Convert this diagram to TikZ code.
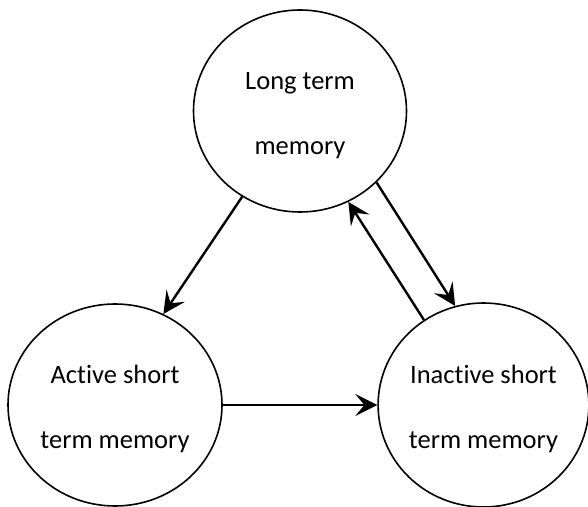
\documentclass[tikz,border=0pt]{standalone}
\usepackage{fontspec}
\setmainfont{Carlito}[Ligatures={NoCommon}]
\usetikzlibrary{shapes.geometric,arrows.meta}
\newcommand{\firstln}{\rule{0pt}{27pt}}
\begin{document}
\begin{tikzpicture}[x=1pt,y=1pt,
  mem/.style={draw, ellipse, line width=1.6pt, inner sep=0pt, align=center,
    font=\fontsize{26.5}{65}\selectfont},
  conn/.style={line width=2.4pt, -{Stealth[length=22pt,width=22pt,inset=9pt]}}]
\useasboundingbox (0,0) rectangle (588,506);
\node[mem, minimum width=213pt, minimum height=202pt] (ltm) at (300,395) {\firstln Long term\\memory};
\node[mem, minimum width=214pt, minimum height=202pt] (asm) at (115,101) {\firstln Active short\\term memory};
\node[mem, minimum width=207pt, minimum height=204pt] (ism) at (483.5,101) {\firstln Inactive short\\term memory};
\draw[conn] (ltm.236.3) -- (asm.62.2);
\draw[conn] (asm) -- (ism);
\draw[conn] (ltm.-43.8) -- (ism.106.8);
\draw[conn] (ism.125.1) -- (ltm.-62.4);
\end{tikzpicture}
\end{document}
